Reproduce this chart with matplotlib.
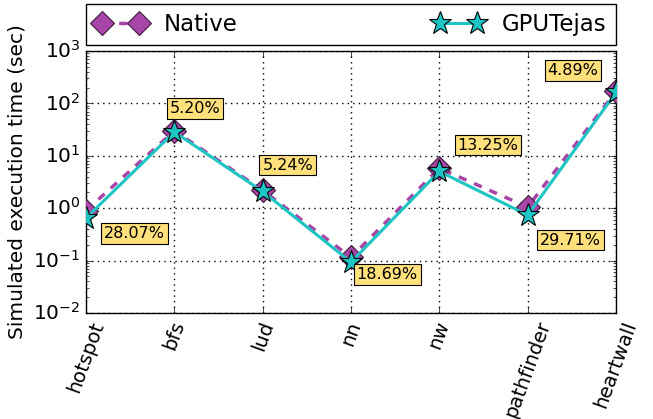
import matplotlib
matplotlib.use("Agg")
import matplotlib.pyplot as plt
import numpy as np

plt.style.use("classic")

# benchmarks and simulated execution times (sec)
benchmarks = ["hotspot", "bfs", "lud", "nn", "nw", "pathfinder", "heartwall"]
native = [0.90, 30.0, 2.20, 0.115, 5.80, 1.05, 170.0]
gputejas = [0.647, 28.44, 2.085, 0.0935, 5.03, 0.738, 161.7]
errors = ["28.07%", "5.20%", "5.24%", "18.69%", "13.25%", "29.71%", "4.89%"]

# where each error box sits relative to its GPUTejas point (points)
label_offsets = [(35, -11), (15, 17), (18, 19), (26, -9), (35, 19), (31, -18), (-31, 16)]

purple = "#A845A8"
cyan = "#1CC4C4"
box_yellow = "#FFE07A"

fig = plt.figure(figsize=(6.53, 4.19), dpi=100, facecolor="white")
ax = fig.add_axes([86 / 653, 1 - 313 / 419, 530 / 653, 262 / 419])

x = np.arange(len(benchmarks))
ax.plot(x, native, linestyle="--", color=purple, lw=2.5, marker="D",
        markersize=12, markerfacecolor=purple, markeredgecolor="#3a1a3a",
        markeredgewidth=0.8, label="Native", zorder=3)
ax.plot(x, gputejas, linestyle="-", color=cyan, lw=2.2, marker="*",
        markersize=17, markerfacecolor=cyan, markeredgecolor="black",
        markeredgewidth=0.8, label="GPUTejas", zorder=4)

for i, (txt, off) in enumerate(zip(errors, label_offsets)):
    ax.annotate(txt, xy=(x[i], gputejas[i]), xytext=off, textcoords="offset points",
                ha="center", va="center", fontsize=11.5, zorder=5,
                bbox=dict(boxstyle="square,pad=0.18", fc=box_yellow, ec="black", lw=0.8))

ax.set_yscale("log")
ax.set_ylim(1e-2, 1e3)
ax.set_xlim(0, len(benchmarks) - 1)
ax.set_xticks(x)
ax.set_xticklabels(benchmarks, rotation=70, fontsize=14)
ax.tick_params(axis="y", labelsize=14.5)
ax.set_ylabel("Simulated execution time (sec)", fontsize=14.5)
ax.grid(True, color="black", linestyle=":", lw=1)
ax.set_axisbelow(True)

ax.legend(bbox_to_anchor=(0, 1.023, 1, 0.16), loc="lower left", mode="expand",
          ncol=2, borderaxespad=0, numpoints=2, fontsize=16.5, handlelength=2.2,
          fancybox=False, framealpha=1)

fig.savefig("out.png", dpi=100, facecolor="white")
